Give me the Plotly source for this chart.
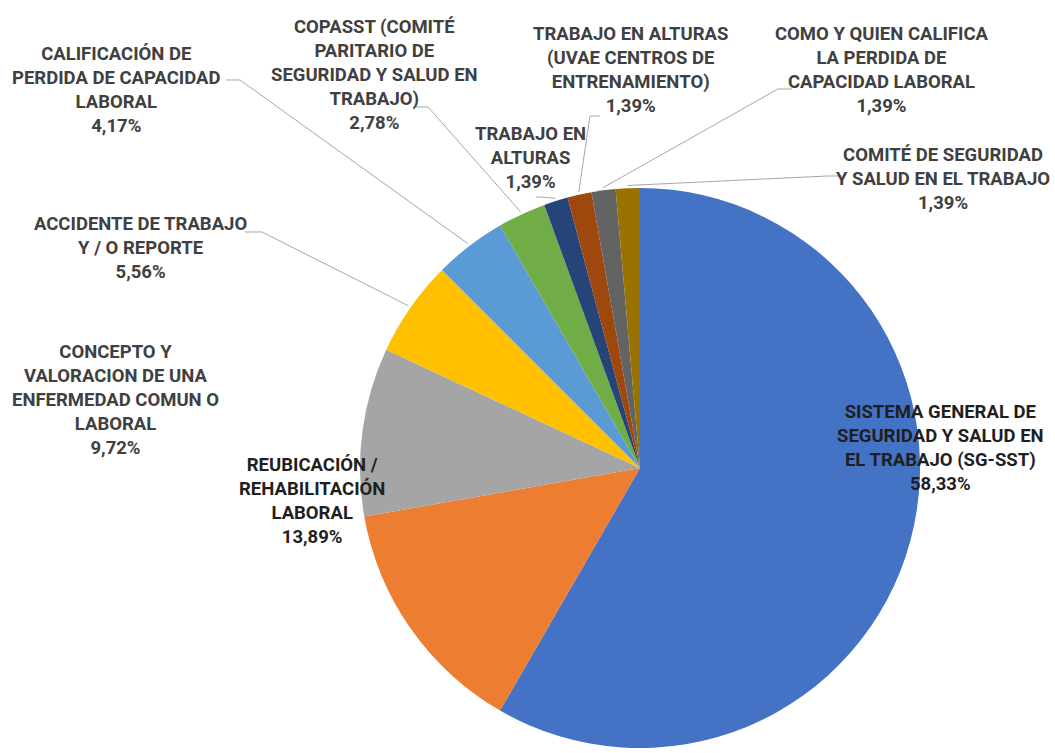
import math
import plotly.graph_objects as go

# ---------------- data ----------------
categories = [
    "SISTEMA GENERAL DE<br>SEGURIDAD Y SALUD EN<br>EL TRABAJO (SG-SST)",
    "REUBICACIÓN /<br>REHABILITACIÓN<br>LABORAL",
    "CONCEPTO Y<br>VALORACION DE UNA<br>ENFERMEDAD COMUN O<br>LABORAL",
    "ACCIDENTE DE TRABAJO<br>Y / O REPORTE",
    "CALIFICACIÓN DE<br>PERDIDA DE CAPACIDAD<br>LABORAL",
    "COPASST (COMITÉ<br>PARITARIO DE<br>SEGURIDAD Y SALUD EN<br>TRABAJO)",
    "TRABAJO EN<br>ALTURAS",
    "TRABAJO EN ALTURAS<br>(UVAE CENTROS DE<br>ENTRENAMIENTO)",
    "COMO Y QUIEN CALIFICA<br>LA PERDIDA DE<br>CAPACIDAD LABORAL",
    "COMITÉ DE SEGURIDAD<br>Y SALUD EN EL TRABAJO",
]
counts = [42, 10, 7, 4, 3, 2, 1, 1, 1, 1]
colors = ["#4472C4", "#ED7D31", "#A5A5A5", "#FFC000", "#5B9BD5",
          "#70AD47", "#264478", "#9E480E", "#636363", "#997300"]

# ---------------- layout constants ----------------
W, H = 1055, 753
CX, CY, R = 640, 468, 280          # pie centre / radius in pixels
FONT = "Roboto, Arial, sans-serif"
FS = 18.5

def px2paper(x, y):
    return x / W, 1 - y / H

total = sum(counts)
pcts = [c / total * 100 for c in counts]
pct_txt = [f"{p:.2f}".replace(".", ",") + "%" for p in pcts]

# mid angles (clockwise from 12 o'clock) derived from the data
mid_angles = []
acc = 0
for c in counts:
    mid_angles.append((acc + c / 2) / total * 360)
    acc += c

def edge_point(i, f=1.01):
    a = math.radians(mid_angles[i])
    return CX + R * f * math.sin(a), CY - R * f * math.cos(a)

fig = go.Figure()
fig.add_trace(go.Pie(
    labels=[c.replace("<br>", " ") for c in categories],
    values=counts,
    sort=False,
    direction="clockwise",
    rotation=0,
    textinfo="none",
    hoverinfo="label+percent",
    marker=dict(colors=colors, line=dict(width=0)),
    domain=dict(x=[(CX - R) / W - 0.02, min(1.0, (CX + R) / W + 0.02)],
                y=[1 - (CY + R) / H, 1 - (CY - R) / H]),
    showlegend=False,
))

# label positions (pixel centres) and leader-line anchor points
label_pos = {
    0: (940, 448),
    1: (312, 501),
    2: (115, 400),
    3: (140, 248),
    4: (116, 90),
    5: (374, 75),
    6: (530, 158),
    7: (630, 70),
    8: (882, 70),
    9: (943, 179),
}
leader = {
    3: [(245, 232), (262, 232)],
    4: [(226, 80), (240, 80)],
    5: [(414, 107), (428, 107)],
    6: [(536, 197), (540, 197)],
    7: [(600, 116), (590, 116)],
    8: [(792, 89), (778, 89)],
    9: [(842, 176), (828, 176)],
}
inside = {0, 1}

annotations = []
for i, cat in enumerate(categories):
    x, y = label_pos[i]
    xp, yp = px2paper(x, y)
    annotations.append(dict(
        x=xp, y=yp, xref="paper", yref="paper",
        text=f"{cat}<br>{pct_txt[i]}",
        showarrow=False, xanchor="center", yanchor="middle", align="center",
        font=dict(family=FONT, size=FS, color="#1f1f1f" if i in inside else "#404040",
                  weight="bold"),
    ))

shapes = []
for i, pts in leader.items():
    ex, ey = edge_point(i)
    allpts = pts + [(ex, ey)]
    path = ""
    for k, (x, y) in enumerate(allpts):
        xp, yp = px2paper(x, y)
        path += ("M" if k == 0 else " L") + f" {xp:.5f},{yp:.5f}"
    shapes.append(dict(type="path", path=path, xref="paper", yref="paper",
                       line=dict(color="#A6A6A6", width=1)))

fig.update_layout(
    width=W, height=H,
    margin=dict(l=0, r=0, t=0, b=0),
    paper_bgcolor="white", plot_bgcolor="white",
    annotations=annotations,
    shapes=shapes,
)

fig.write_html(
    "out.html",
    config={"displayModeBar": False},
    post_script="document.body.style.margin='0';document.body.style.overflow='hidden';",
)
